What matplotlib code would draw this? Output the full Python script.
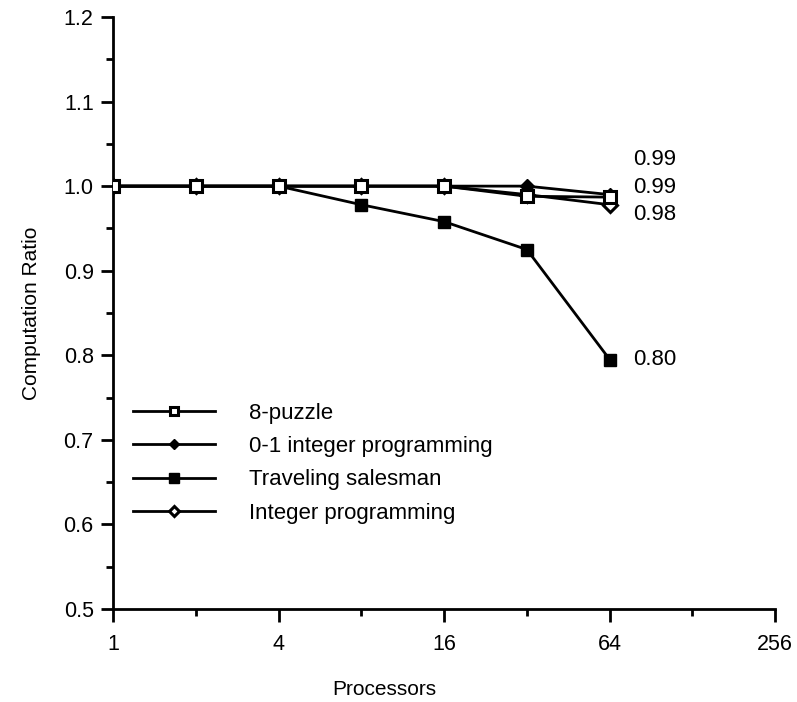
import numpy as np
import matplotlib
matplotlib.use("Agg")
import matplotlib.pyplot as plt
from matplotlib.ticker import FixedLocator, NullFormatter, MultipleLocator

plt.rcParams['font.family'] = ['Liberation Sans', 'DejaVu Sans']

processors = [1, 2, 4, 8, 16, 32, 64]
puzzle8 = [1.0, 1.0, 1.0, 1.0, 1.0, 0.988, 0.987]
int01 = [1.0, 1.0, 1.0, 1.0, 1.0, 1.0, 0.99]
salesman = [1.0, 1.0, 1.0, 0.978, 0.958, 0.925, 0.795]
intprog = [1.0, 1.0, 1.0, 1.0, 1.0, 0.99, 0.978]

end_labels = ["0.99", "0.99", "0.98", "0.80"]
x_ticks = [1, 4, 16, 64, 256]

fig = plt.figure(figsize=(7.97, 7.02), dpi=100)
ax = fig.add_axes([0.142, 0.1325, 0.8306, 0.8433])

lw = 2.0
ax.plot(processors, puzzle8, color='black', lw=lw, marker='s', ms=8,
        mfc='white', mec='black', mew=2.2, label='8-puzzle', zorder=4)
ax.plot(processors, int01, color='black', lw=lw, marker='D', ms=7,
        mfc='black', mec='black', label='0-1 integer programming', zorder=3)
ax.plot(processors, salesman, color='black', lw=lw, marker='s', ms=8.5,
        mfc='black', mec='black', label='Traveling salesman', zorder=3)
ax.plot(processors, intprog, color='black', lw=lw, marker='D', ms=7,
        mfc='white', mec='black', mew=2.2, label='Integer programming', zorder=3)

# value labels at the right end
for txt, yy in zip(end_labels, [1.032, 0.998, 0.967, 0.795]):
    ax.text(78, yy, txt, fontsize=16, va='center', ha='left')

ax.set_xscale('log', base=2)
ax.set_xlim(1, 256)
ax.set_ylim(0.5, 1.2)
ax.xaxis.set_major_locator(FixedLocator(x_ticks))
ax.xaxis.set_minor_locator(FixedLocator([2, 8, 32, 128]))
ax.xaxis.set_minor_formatter(NullFormatter())
ax.set_xticklabels([str(t) for t in x_ticks])
ax.yaxis.set_major_locator(MultipleLocator(0.1))
ax.yaxis.set_minor_locator(MultipleLocator(0.05))
ax.yaxis.set_major_formatter(plt.FormatStrFormatter('%.1f'))

for s in ['top', 'right']:
    ax.spines[s].set_visible(False)
for s in ['left', 'bottom']:
    ax.spines[s].set_linewidth(2)

ax.tick_params(axis='both', which='major', direction='out', length=9, width=2,
               labelsize=15.5, pad=9)
ax.tick_params(axis='both', which='minor', direction='out', length=5, width=2)
ax.tick_params(axis='y', which='major', pad=5)

ax.set_xlabel('Processors', fontsize=15)
ax.xaxis.set_label_coords(0.41, -0.12)
ax.set_ylabel('Computation Ratio', fontsize=15, labelpad=16)

ax.legend(loc='upper left', bbox_to_anchor=(0.0, 0.382), frameon=False,
          fontsize=16, handlelength=3.7, handletextpad=1.5, labelspacing=0.55,
          markerscale=0.8)

fig.savefig('out.png', dpi=100)
